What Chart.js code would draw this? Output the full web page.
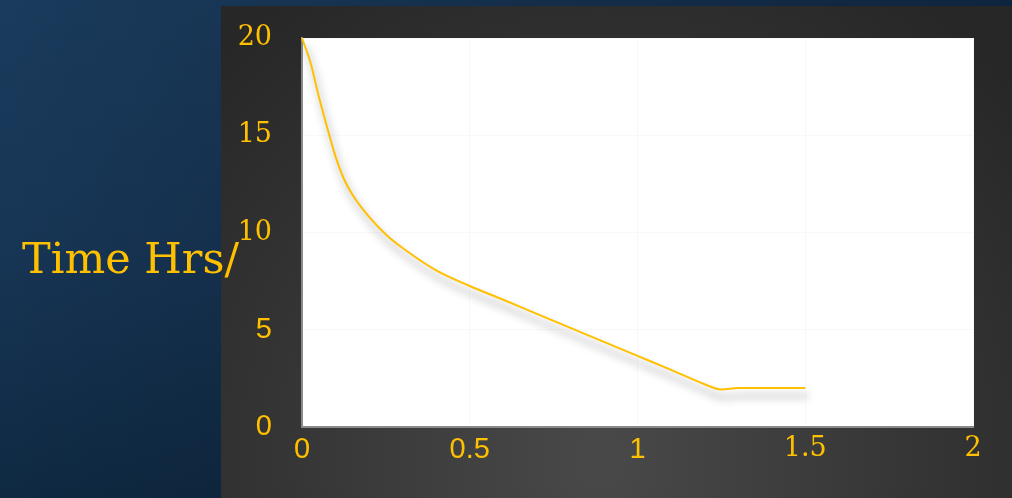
<!DOCTYPE html>
<html>
<head>
<meta charset="utf-8">
<script src="https://cdn.jsdelivr.net/npm/chart.js@4.4.1/dist/chart.umd.min.js"></script>
<style>
  html, body { margin: 0; padding: 0; background: #16324f; overflow: hidden; }
  #wrap { width: 1012px; height: 498px; position: relative; }
  canvas { display: block; }
</style>
</head>
<body>
<div id="wrap"><canvas id="c" width="1012" height="498"></canvas></div>
<script>
// Measured series: x position vs. time in hours
const xValues = [0, 0.025, 0.05, 0.075, 0.1, 0.125, 0.15, 0.2, 0.25, 0.3, 0.4, 0.5,
                 0.6, 0.7, 0.8, 0.9, 1.0, 1.1, 1.2, 1.25, 1.3, 1.4, 1.5];
const hours   = [20, 18.75, 17.0, 15.4, 13.9, 12.75, 11.95, 10.8, 9.9, 9.2, 8.05, 7.25,
                 6.54, 5.82, 5.1, 4.38, 3.66, 2.94, 2.2, 1.93, 2.0, 2.0, 2.0];
const xTicks = [0, 0.5, 1, 1.5, 2];
const yTicks = [0, 5, 10, 15, 20];
const axisTitle = 'Time Hrs/';

const gold = '#FFC000';
const serif = '"DejaVu Serif", serif';
const sans = '"Liberation Sans", Arial, sans-serif';

// Slide backdrop: blue texture on the left, dark panel behind the chart, white plot area
const backdrop = {
  id: 'backdrop',
  beforeDraw(chart) {
    const ctx = chart.ctx, W = chart.width, H = chart.height;
    ctx.save();
    const blue = ctx.createLinearGradient(0, 0, 0, H);
    blue.addColorStop(0, '#1a3b5d');
    blue.addColorStop(0.5, '#173555');
    blue.addColorStop(1, '#0f2942');
    ctx.fillStyle = blue;
    ctx.fillRect(0, 0, W, H);
    const edge = ctx.createLinearGradient(0, 0, W, 0);
    edge.addColorStop(0, 'rgba(0,0,0,0)');
    edge.addColorStop(1, 'rgba(0,10,25,0.45)');
    ctx.fillStyle = edge;
    ctx.fillRect(0, 0, W, H);

    const px = 221, py = 6;
    const panel = ctx.createRadialGradient(600, 460, 20, 600, 460, 560);
    panel.addColorStop(0, '#484848');
    panel.addColorStop(0.55, '#353535');
    panel.addColorStop(1, '#272727');
    ctx.fillStyle = panel;
    ctx.fillRect(px, py, W - px, H - py);

    const a = chart.chartArea;
    ctx.fillStyle = '#ffffff';
    ctx.fillRect(a.left, a.top, a.right - a.left, a.bottom - a.top);
    ctx.restore();
  },
  afterDraw(chart) {
    const ctx = chart.ctx;
    ctx.save();
    ctx.fillStyle = gold;
    ctx.font = '43px ' + serif;
    ctx.textBaseline = 'alphabetic';
    ctx.textAlign = 'left';
    ctx.fillText(axisTitle, 22, 273);
    ctx.restore();
  }
};

// Soft drop shadow under the curve
const lineShadow = {
  id: 'lineShadow',
  beforeDatasetDraw(chart) {
    const ctx = chart.ctx;
    ctx.save();
    ctx.shadowColor = 'rgba(0,0,0,0.45)';
    ctx.shadowBlur = 8;
    ctx.shadowOffsetX = 3;
    ctx.shadowOffsetY = 8;
  },
  afterDatasetDraw(chart) {
    chart.ctx.restore();
  }
};

new Chart(document.getElementById('c'), {
  type: 'line',
  data: {
    datasets: [{
      data: xValues.map((x, i) => ({ x: x, y: hours[i] })),
      borderColor: gold,
      borderWidth: 2,
      pointRadius: 0,
      fill: false,
      cubicInterpolationMode: 'monotone',
      clip: 12
    }]
  },
  options: {
    responsive: false,
    animation: false,
    devicePixelRatio: 1,
    layout: { padding: { top: 38, right: 39, left: 0, bottom: 0 } },
    plugins: { legend: { display: false }, tooltip: { enabled: false } },
    scales: {
      x: {
        type: 'linear',
        min: 0, max: 2,
        afterBuildTicks(scale) { scale.ticks = xTicks.map(v => ({ value: v })); },
        afterFit(scale) { scale.height = 71; scale.paddingLeft = 0; scale.paddingRight = 0; },
        grid: { color: '#f8f8f8', lineWidth: 1, drawTicks: false },
        border: { display: true, color: '#8a8a8a', width: 2 },
        ticks: {
          color: gold,
          padding: 6,
          maxRotation: 0,
          callback: (v) => String(v),
          font: (c) => (c.tick && c.tick.value >= 1.5)
            ? { family: serif, size: 27 }
            : { family: sans, size: 29 }
        }
      },
      y: {
        type: 'linear',
        min: 0, max: 20,
        afterBuildTicks(scale) { scale.ticks = yTicks.map(v => ({ value: v })); },
        afterFit(scale) { scale.width = 302; scale.paddingTop = 0; scale.paddingBottom = 0; },
        grid: { color: '#f8f8f8', lineWidth: 1, drawTicks: false },
        border: { display: true, color: '#8a8a8a', width: 2 },
        ticks: {
          color: gold,
          padding: 30,
          callback: (v) => String(v),
          font: (c) => (c.tick && c.tick.value >= 10)
            ? { family: serif, size: 27 }
            : { family: sans, size: 29 }
        }
      }
    }
  },
  plugins: [backdrop, lineShadow]
});
</script>
</body>
</html>
